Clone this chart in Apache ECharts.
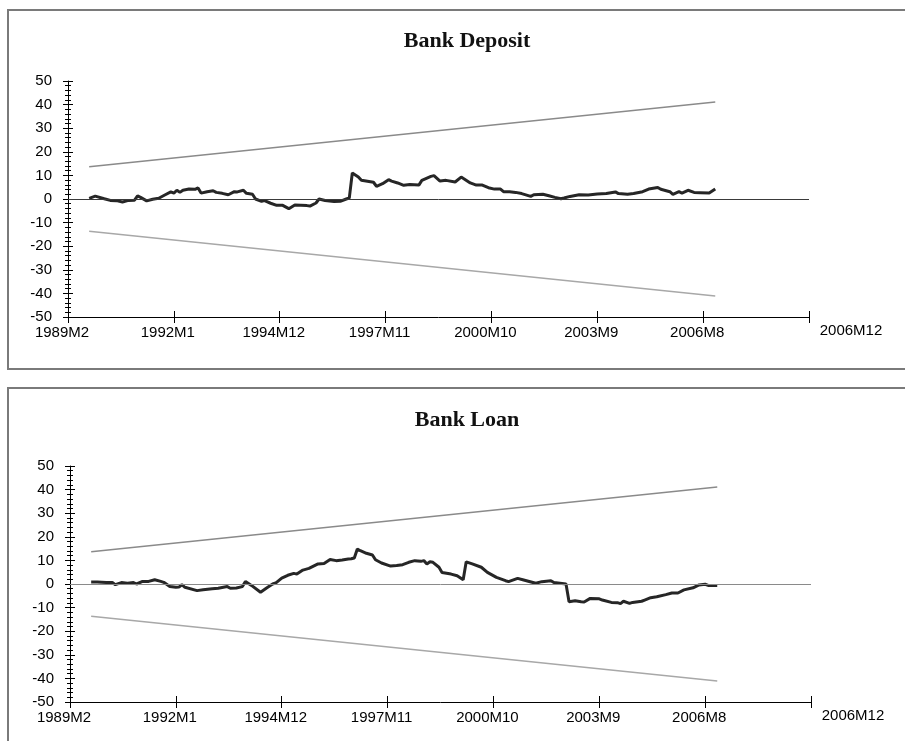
<!DOCTYPE html>
<html>
<head>
<meta charset="utf-8">
<title>CUSUM – Bank Deposit and Bank Loan</title>
<script src="https://cdn.jsdelivr.net/npm/echarts@6/dist/echarts.min.js"></script>
<style>
  html, body { margin: 0; padding: 0; background: #fff; }
  #chart { width: 905px; height: 741px; }
</style>
</head>
<body>
<div id="chart"></div>
<script>
// Horizontal axis: months counted from 1989M2, ticks every 35 months
const axisStart = '1989M2';
const tickStep = 35;
const tickLabels = ['1989M2', '1992M1', '1994M12', '1997M11', '2000M10', '2003M9', '2006M8', '2006M12'];
const yTicks = [-50, 50, 10];

// 5% significance bounds (straight lines between their end points)
const boundPeriods = ['1989M9', '2006M12'];
const upperBound = [13.7, 41.1];
const lowerBound = [-13.7, -41.1];

// CUSUM of recursive residuals – Bank Deposit
const depositPeriods = [
  '1989M9','1989M11','1990M2','1990M4','1990M6','1990M8','1990M10','1990M12','1991M1','1991M2',
  '1991M4','1991M6','1991M8','1991M10','1991M12','1992M1','1992M2','1992M3','1992M4','1992M6',
  '1992M8','1992M9','1992M10','1992M12','1993M2','1993M3','1993M5','1993M7','1993M9','1993M10',
  '1993M12','1994M1','1994M3','1994M4','1994M6','1994M7','1994M9','1994M11','1995M1','1995M3',
  '1995M5','1995M7','1995M9','1995M10','1995M12','1996M1','1996M3','1996M6','1996M8','1996M10',
  '1996M11','1996M12','1997M2','1997M3','1997M5','1997M7','1997M8','1997M10','1997M12','1998M1',
  '1998M3','1998M5','1998M7','1998M10','1998M11','1999M2','1999M3','1999M5','1999M7','1999M10',
  '1999M12','2000M1','2000M3','2000M5','2000M7','2000M9','2000M11','2001M1','2001M2','2001M4',
  '2001M6','2001M8','2001M11','2001M12','2002M3','2002M5','2002M7','2002M9','2002M10','2002M12',
  '2003M3','2003M6','2003M9','2003M12','2004M3','2004M4','2004M7','2004M9','2004M12','2005M2',
  '2005M5','2005M6','2005M9','2005M10','2005M12','2006M1','2006M3','2006M5','2006M7','2006M10',
  '2006M12'
];
const depositValues = [
  0.3, 1.2, 0.1, -0.6, -0.7, -1.3, -0.6, -0.5, 1.3, 0.7,
  -0.8, -0.1, 0.3, 1.7, 3.0, 2.5, 3.7, 2.8, 3.7, 4.2,
  4.1, 4.7, 2.5, 3.1, 3.5, 2.8, 2.4, 1.8, 3.1, 3.0,
  3.7, 2.4, 2.0, 0.0, -1.0, -0.7, -1.8, -2.7, -2.7, -4.1,
  -2.5, -2.6, -2.8, -3.0, -1.7, 0.0, -0.6, -1.1, -1.0, 0.0,
  0.4, 11.0, 9.3, 7.9, 7.5, 7.1, 5.4, 6.5, 8.2, 7.6,
  6.8, 5.8, 6.1, 5.9, 7.9, 9.6, 9.9, 7.6, 7.9, 7.2,
  9.3, 8.5, 6.8, 5.9, 5.9, 4.8, 4.2, 4.2, 3.1, 3.1,
  2.8, 2.3, 1.1, 1.8, 2.0, 1.4, 0.7, 0.1, 0.4, 1.1,
  1.8, 1.7, 2.1, 2.3, 3.0, 2.3, 2.0, 2.3, 3.1, 4.2,
  4.9, 4.1, 3.1, 2.0, 3.1, 2.5, 3.7, 2.8, 2.7, 2.5,
  4.2
];

// CUSUM of recursive residuals – Bank Loan
const loanPeriods = [
  '1989M9','1989M11','1990M2','1990M4','1990M5','1990M7','1990M9','1990M11','1990M12','1991M2',
  '1991M4','1991M6','1991M8','1991M9','1991M11','1992M1','1992M2','1992M3','1992M4','1992M8',
  '1992M10','1993M1','1993M3','1993M6','1993M7','1993M9','1993M11','1993M12','1994M2','1994M5',
  '1994M7','1994M9','1994M10','1994M12','1995M2','1995M4','1995M5','1995M7','1995M9','1995M12',
  '1996M2','1996M4','1996M6','1996M8','1996M10','1996M11','1996M12','1997M1','1997M2','1997M4',
  '1997M6','1997M7','1997M9','1997M12','1998M2','1998M4','1998M6','1998M8','1998M10','1998M11',
  '1998M12','1999M1','1999M2','1999M4','1999M5','1999M8','1999M10','1999M12','2000M1','2000M3',
  '2000M6','2000M8','2000M11','2001M2','2001M3','2001M6','2001M8','2001M12','2002M2','2002M5',
  '2002M6','2002M10','2002M11','2003M1','2003M3','2003M4','2003M6','2003M9','2003M10','2004M1',
  '2004M3','2004M4','2004M5','2004M7','2004M8','2004M11','2004M12','2005M2','2005M4','2005M7',
  '2005M9','2005M11','2006M1','2006M4','2006M6','2006M8','2006M9','2006M12'
];
const loanValues = [
  0.8, 0.8, 0.6, 0.6, -0.3, 0.6, 0.3, 0.6, 0.0, 1.1,
  1.1, 1.8, 1.1, 0.7, -1.1, -1.4, -1.3, -0.3, -1.4, -2.8,
  -2.4, -2.0, -1.8, -1.1, -1.8, -1.7, -1.1, 1.1, -0.6, -3.5,
  -1.7, 0.0, 0.4, 2.5, 3.7, 4.5, 4.2, 5.9, 6.6, 8.5,
  8.7, 10.4, 9.9, 10.2, 10.6, 10.7, 11.0, 14.8, 14.1, 13.0,
  12.3, 10.3, 8.9, 7.6, 7.8, 8.2, 9.2, 9.9, 9.6, 9.9,
  8.5, 9.4, 9.2, 7.1, 4.9, 4.2, 3.5, 1.8, 9.4, 8.5,
  7.1, 4.9, 2.8, 1.4, 1.0, 2.4, 1.7, 0.3, 1.0, 1.4,
  0.6, 0.0, -7.5, -7.1, -7.5, -7.6, -6.1, -6.3, -6.8, -7.8,
  -7.9, -8.3, -7.3, -8.2, -7.8, -7.3, -6.8, -5.8, -5.4, -4.5,
  -3.8, -3.8, -2.5, -1.6, -0.4, -0.1, -0.6, -0.6
];

// "YYYYMm" -> months elapsed since the first tick
function monthIndex(label) {
  const [y, m] = label.split('M').map(Number);
  const [y0, m0] = axisStart.split('M').map(Number);
  return (y - y0) * 12 + (m - m0);
}
function pairs(periods, values) {
  return periods.map((p, i) => [monthIndex(p), values[i]]);
}

const xMax = tickStep * (tickLabels.length - 1);
const SANS = '"Liberation Sans", Arial, sans-serif';
const SERIF = '"Liberation Serif", "Times New Roman", serif';

function xAxes(gridMain, gridOver) {
  const base = { type: 'value', min: 0, max: xMax, interval: tickStep, splitLine: { show: false } };
  return [
    Object.assign({}, base, {
      gridIndex: gridMain,
      axisLine: { show: true, onZero: false, lineStyle: { color: '#000', width: 1 } },
      axisTick: { show: true, length: 6, lineStyle: { color: '#000' } },
      axisLabel: {
        show: true, margin: 8, showMinLabel: true, showMaxLabel: true,
        formatter: v => {
          const i = Math.round(v / tickStep);
          return i === tickLabels.length - 1 ? '{e|' + tickLabels[i] + '}' : '{n|' + tickLabels[i] + '}';
        },
        rich: {
          n: { fontFamily: SANS, fontSize: 15, color: '#000', padding: [0, 12, 0, 0] },
          e: { fontFamily: SANS, fontSize: 15, lineHeight: 11, color: '#000', padding: [0, 0, 0, 84] }
        }
      }
    }),
    Object.assign({}, base, {
      gridIndex: gridOver,
      axisLine: { show: false, onZero: false },
      axisTick: { show: true, inside: true, length: 6, lineStyle: { color: '#000' } },
      axisLabel: { show: false }
    })
  ];
}

function yAxes(gridMain, gridOver) {
  const base = {
    type: 'value', min: yTicks[0], max: yTicks[1], interval: yTicks[2],
    splitLine: { show: false }
  };
  return [
    Object.assign({}, base, {
      gridIndex: gridMain,
      axisLine: { show: true, onZero: false, lineStyle: { color: '#000', width: 1 } },
      axisTick: { show: true, length: 5, lineStyle: { color: '#000' } },
      minorTick: { show: true, splitNumber: 5, length: 3, lineStyle: { color: '#000' } },
      axisLabel: { show: true, margin: 16, fontFamily: SANS, fontSize: 15, color: '#000' }
    }),
    Object.assign({}, base, {
      gridIndex: gridOver,
      axisLine: { show: false, onZero: false },
      axisTick: { show: true, inside: true, length: 5, lineStyle: { color: '#000' } },
      minorTick: { show: true, splitNumber: 5, length: 3, lineStyle: { color: '#000' } },
      axisLabel: { show: false }
    })
  ];
}

function panelSeries(axisIdx, periods, values, zeroColor) {
  return [
    {
      type: 'line', xAxisIndex: axisIdx, yAxisIndex: axisIdx,
      data: pairs(boundPeriods, upperBound), showSymbol: false, silent: true,
      lineStyle: { color: '#8a8a8a', width: 1.5 }, z: 2
    },
    {
      type: 'line', xAxisIndex: axisIdx, yAxisIndex: axisIdx,
      data: pairs(boundPeriods, lowerBound), showSymbol: false, silent: true,
      lineStyle: { color: '#a8a8a8', width: 1.5 }, z: 2
    },
    {
      type: 'line', xAxisIndex: axisIdx, yAxisIndex: axisIdx,
      data: pairs(periods, values), showSymbol: false, silent: true,
      lineStyle: { color: '#262626', width: 3 }, z: 4,
      markLine: {
        silent: true, symbol: 'none', label: { show: false },
        lineStyle: { color: zeroColor, width: 1, type: 'solid' },
        data: [{ yAxis: 0 }]
      }
    }
  ];
}

const topGrid = { left: 68, top: 81, width: 741, height: 236 };
const botGrid = { left: 70, top: 466, width: 741, height: 236 };

const option = {
  backgroundColor: '#fff',
  animation: false,
  title: [
    { text: 'Bank Deposit', left: 462, top: 25, textAlign: 'center',
      textStyle: { fontFamily: SERIF, fontSize: 22, fontWeight: 'bold', color: '#111' } },
    { text: 'Bank Loan', left: 462, top: 404, textAlign: 'center',
      textStyle: { fontFamily: SERIF, fontSize: 22, fontWeight: 'bold', color: '#111' } }
  ],
  graphic: [
    { type: 'rect', shape: { x: 8, y: 10, width: 920, height: 359 },
      style: { fill: 'none', stroke: '#7a7a7a', lineWidth: 2 }, z: -1, silent: true },
    { type: 'rect', shape: { x: 8, y: 388, width: 920, height: 380 },
      style: { fill: 'none', stroke: '#7a7a7a', lineWidth: 2 }, z: -1, silent: true }
  ],
  grid: [
    Object.assign({ containLabel: false }, topGrid),
    Object.assign({ containLabel: false }, topGrid),
    Object.assign({ containLabel: false }, botGrid),
    Object.assign({ containLabel: false }, botGrid)
  ],
  xAxis: [].concat(xAxes(0, 1), xAxes(2, 3)),
  yAxis: [].concat(yAxes(0, 1), yAxes(2, 3)),
  series: [].concat(
    panelSeries(0, depositPeriods, depositValues, '#3a3a3a'),
    panelSeries(2, loanPeriods, loanValues, '#8a8a8a')
  )
};

echarts.init(document.getElementById('chart'), null, { renderer: 'canvas' }).setOption(option);
</script>
</body>
</html>
